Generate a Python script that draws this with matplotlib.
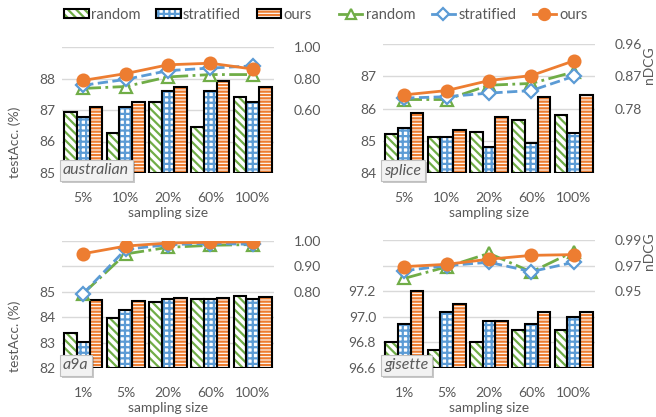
import numpy as np
import matplotlib
matplotlib.use('Agg')
from matplotlib import pyplot as plt
from matplotlib.patches import Patch
from matplotlib.lines import Line2D
from matplotlib.legend_handler import HandlerTuple
import matplotlib.patheffects as pe

plt.rcParams['font.family'] = ['Lato', 'DejaVu Sans']
plt.rcParams['hatch.linewidth'] = 1.6

methods = ['random', 'stratified', 'ours']
datasets = ['australian', 'splice', 'a9a', 'gisette']
sizes_top = ['5%', '10%', '20%', '60%', '100%']
sizes_bottom = ['1%', '5%', '20%', '60%', '100%']

# test accuracy (bars, left axis)
acc_australian = [[86.93, 86.28, 87.26, 86.47, 87.42],
                  [86.79, 87.10, 87.59, 87.59, 87.26],
                  [87.11, 87.26, 87.74, 87.93, 87.74]]
acc_splice = [[85.22, 85.11, 85.26, 85.64, 85.80],
              [85.41, 85.13, 84.82, 84.93, 85.24],
              [85.87, 85.34, 85.73, 86.36, 86.43]]
acc_a9a = [[83.36, 83.96, 84.58, 84.70, 84.83],
           [83.03, 84.28, 84.70, 84.70, 84.70],
           [84.67, 84.64, 84.74, 84.74, 84.79]]
acc_gisette = [[96.80, 96.74, 96.80, 96.90, 96.90],
               [96.94, 97.04, 96.97, 96.94, 97.00],
               [97.20, 97.10, 96.97, 97.04, 97.04]]

# nDCG (lines, right axis)
ndcg_australian = [[0.737, 0.749, 0.810, 0.825, 0.825],
                   [0.757, 0.794, 0.850, 0.866, 0.880],
                   [0.788, 0.831, 0.887, 0.897, 0.860]]
ndcg_splice = [[0.805, 0.805, 0.845, 0.850, 0.882],
               [0.809, 0.813, 0.823, 0.830, 0.870],
               [0.818, 0.830, 0.858, 0.872, 0.913]]
ndcg_a9a = [[0.793, 0.949, 0.975, 0.983, 0.986],
            [0.793, 0.967, 0.986, 0.990, 0.987],
            [0.950, 0.980, 0.992, 0.995, 0.997]]
ndcg_gisette = [[0.960, 0.969, 0.9796, 0.965, 0.981],
                [0.966, 0.970, 0.9726, 0.9653, 0.9726],
                [0.9692, 0.971, 0.975, 0.978, 0.9786]]

acc_all = [acc_australian, acc_splice, acc_a9a, acc_gisette]
ndcg_all = [ndcg_australian, ndcg_splice, ndcg_a9a, ndcg_gisette]
xlabels_all = [sizes_top, sizes_top, sizes_bottom, sizes_bottom]

# axis settings
left_grid = [[85, 86, 87, 88, 89], [84, 85, 86, 87, 88],
             [82, 83, 84, 85, 86, 87], [96.6, 96.8, 97.0, 97.2, 97.4, 97.6]]
left_nlab = [4, 4, 4, 4]
left_fmt = ['%d', '%d', '%d', '%.1f']
right_lim = [(0.2, 1.0), (0.6, 0.96), (0.5, 1.0), (0.89, 0.99)]
right_ticks = [[0.6, 0.8, 1.0], [0.78, 0.87, 0.96], [0.8, 0.9, 1.0], [0.95, 0.97, 0.99]]

positions = [[62, 47, 274, 173], [383, 44, 595, 173],
             [62, 241, 274, 368], [383, 240, 595, 368]]

W, H = 656, 417
green = '#70AD47'
blue = '#5B9BD5'
orange = '#ED7D31'
grey = '#595959'
bar_col = [green, blue, orange]
hatches = ['\\\\\\\\', '+++', '-----']
line_style = ['-.', '--', '-']
markers = ['^', 'D', 'o']
msizes = [8, 7, 8.5]

fig = plt.figure(figsize=(W / 100, H / 100), dpi=100)

for k in range(4):
    x0, y0, x1, y1 = positions[k]
    ax = fig.add_axes([x0 / W, 1 - y1 / H, (x1 - x0) / W, (y1 - y0) / H])
    ax2 = ax.twinx()
    x = np.arange(5)
    g = left_grid[k]
    ymin, ymax = g[0], g[-1]
    bw = 0.3
    for i in range(3):
        v = np.array(acc_all[k][i])
        ax.bar(x + (i - 1) * bw, v - ymin, bottom=ymin, width=bw, color='white',
               hatch=hatches[i], edgecolor=bar_col[i], linewidth=0, zorder=2)
        ax.bar(x + (i - 1) * bw, v - ymin, bottom=ymin, width=bw, fill=False,
               edgecolor='black', linewidth=1.5, zorder=3)
    ax.set_ylim(ymin, ymax)
    ax.set_xlim(-0.5, 4.5)
    ax.set_yticks(g)
    ax.set_yticklabels([left_fmt[k] % t if j < left_nlab[k] else '' for j, t in enumerate(g)])
    ax.grid(axis='y', color='#d9d9d9', linewidth=1, zorder=0)
    ax.set_axisbelow(True)
    ax.set_xticks(x)
    ax.set_xticklabels(xlabels_all[k])
    ax.set_xlabel('sampling size', color=grey, fontsize=10, labelpad=2)
    ax.tick_params(length=0, labelcolor=grey, labelsize=10, pad=5)
    ax.tick_params(axis='x', pad=14)
    for s in ax.spines.values():
        s.set_visible(False)

    for i in range(3):
        mfc = orange if i == 2 else 'white'
        ax2.plot(x, ndcg_all[k][i], linestyle=line_style[i], color=bar_col[i],
                 linewidth=2, marker=markers[i], markersize=msizes[i],
                 markerfacecolor=mfc, markeredgecolor=bar_col[i], markeredgewidth=1.6)
    ax2.set_ylim(*right_lim[k])
    ax2.set_yticks(right_ticks[k])
    ax2.set_yticklabels(['%.2f' % t for t in right_ticks[k]])
    ax2.tick_params(length=0, labelcolor=grey, labelsize=10, pad=14)
    for s in ax2.spines.values():
        s.set_visible(False)

    t = ax2.text(0.005, -0.035, datasets[k], transform=ax2.transAxes, style='italic',
                 color=grey, fontsize=11.5, ha='left', va='bottom', zorder=10,
                 bbox=dict(boxstyle='square,pad=0.22', fc='#f2f2f2', ec='#bfbfbf', lw=0.8))
    t.get_bbox_patch().set_path_effects([pe.SimplePatchShadow(offset=(1.5, -1.5), alpha=0.3), pe.Normal()])

fig.text(15 / W, 1 - 142 / H, 'testAcc. (%)', rotation=90, ha='center', va='center', color=grey, fontsize=10)
fig.text(15 / W, 1 - 336 / H, 'testAcc. (%)', rotation=90, ha='center', va='center', color=grey, fontsize=10)
fig.text(655 / W, 1 - 65 / H, 'nDCG', rotation=90, ha='right', va='center', color=grey, fontsize=10)
fig.text(655 / W, 1 - 251 / H, 'nDCG', rotation=90, ha='right', va='center', color=grey, fontsize=10)

bar_handles = []
for i in range(3):
    h1 = Patch(facecolor='white', hatch=hatches[i], edgecolor=bar_col[i], linewidth=0)
    h2 = Patch(fill=False, edgecolor='black', linewidth=1.5)
    bar_handles.append((h1, h2))
fig.legend(bar_handles, methods, handler_map={tuple: HandlerTuple(ndivide=1)},
           loc='center left', bbox_to_anchor=(64 / W, 1 - 15 / H), ncol=3, frameon=False,
           fontsize=10.5, handlelength=1.7, handleheight=0.6, handletextpad=0.12,
           columnspacing=1.1, borderpad=0, borderaxespad=0, labelcolor=grey)

line_handles = []
for i in range(3):
    mfc = orange if i == 2 else 'white'
    line_handles.append(Line2D([], [], color=bar_col[i], linewidth=2, marker=markers[i],
                               markersize=msizes[i] - 0.5, markerfacecolor=mfc,
                               markeredgecolor=bar_col[i], markeredgewidth=1.6))
fig.legend(line_handles, methods, loc='center left', bbox_to_anchor=(339 / W, 1 - 15 / H),
           ncol=3, frameon=False, fontsize=10.5, handlelength=1.6, handletextpad=0.25,
           columnspacing=1.1, borderpad=0, borderaxespad=0, labelcolor=grey)

fig.savefig('out.png', dpi=100)
